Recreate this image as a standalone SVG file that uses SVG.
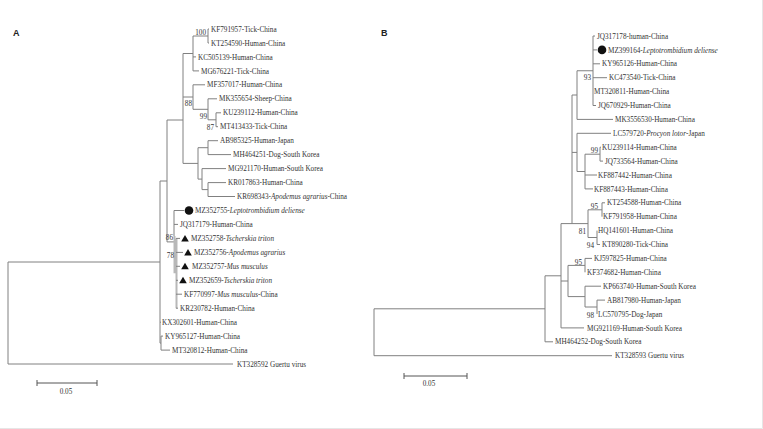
<svg xmlns="http://www.w3.org/2000/svg" width="763" height="429" viewBox="0 0 763 429">
<style>
text{font-family:"Liberation Serif","Times New Roman",serif;font-size:7.2px;fill:#333}
.i{font-style:italic}
.bs{text-anchor:end}
.pl{font-family:"Liberation Sans",Arial,sans-serif;font-size:9px;font-weight:bold;fill:#222}
.br{stroke:#808080;stroke-width:1;fill:none}
.gr{stroke:#b8b8b8;stroke-width:2;fill:none}
.sb{stroke:#555;stroke-width:1;fill:none}
</style>
<defs>
<path id="tri" d="M0 -3.5 L3.8 3 L-3.8 3 Z" fill="#111"/>
</defs>
<rect width="763" height="429" fill="#fff"/>
<path d="M0 428.5 H762.5 V0" stroke="#e6e6e6" fill="none"/>
<g id="connectors">
<path class="br" d="M8 262 V364 M8 262 H160 M8 364 H233 M160 181 V343.1 M160 181 H167 M160 322.2 H161 M160 343.1 H161 M161 336.1 V350.1 M161 336.1 H163 M161 350.1 H170 M167 120 V241.9 M167 120 H183 M167 241.9 H174 M183 53.5 V163.4 M183 53.5 H193 M183 97 H193 M183 163.4 H198 M193 36 V70.9 M193 36 H208 M193 56.9 H196 M193 70.9 H199 M208 29 V43 M208 29 H209 M208 43 H209 M193 84.8 V109.3 M193 84.8 H205 M193 109.3 H208 M208 98.8 V119.8 M208 98.8 H217 M208 119.8 H216 M216 112.8 V126.7 M216 112.8 H221 M216 126.7 H218 M198 147.7 V179.1 M198 147.7 H208 M198 179.1 H202 M208 140.7 V154.6 M208 140.7 H218 M208 154.6 H231 M202 168.6 V189.6 M202 168.6 H226 M202 189.6 H208 M208 182.6 V196.5 M208 182.6 H226 M208 196.5 H235 M174 210.5 V236 M174 210.5 H184 M174 224.4 H178"/>
<path class="gr" d="M174.5 236 V273.3 M176.5 238.4 V308.2"/>
<path class="br" d="M176 238.4 H180 M176 252.4 H183 M176 266.3 H180 M176 280.3 H178 M176 294.2 H182 M176 308.2 H178"/>
<path class="br" d="M374 308.8 V355.7 M374 308.8 H545 M374 355.7 H612 M545 275.8 V341.8 M545 275.8 H561 M545 341.8 H553 M561 223.6 V327.9 M561 223.6 H572 M561 281 H568 M561 327.9 H584 M572 95 V223.6 M572 95 H577 M572 152.4 H577 M572 223.6 H588 M577 70.75 V119.4 M577 70.75 H593 M577 119.4 H613 M593 36 V105.5 M593 36 H595 M593 49.9 H597 M593 63.8 H600 M593 77.7 H607 M593 105.5 H596 M577 133.3 V171.5 M577 133.3 H611 M577 171.5 H585 M585 154.2 V188.9 M585 154.2 H600 M585 175 H597 M585 188.9 H593 M600 147.2 V161.1 M600 147.2 H601 M600 161.1 H603 M588 209.8 V237.5 M588 209.8 H602 M588 237.5 H597 M602 202.8 V216.7 M602 202.8 H605 M597 230.6 V244.5 M597 244.5 H600 M568 265.4 V296.6 M568 265.4 H585 M568 296.6 H585 M585 258.4 V272.3 M585 258.4 H592 M585 286.2 V307 M585 286.2 H601 M585 307 H597 M597 300.1 V314 M597 300.1 H605"/>
</g>
<g id="panel-labels">
<text class="pl" x="13" y="36">A</text>
<text class="pl" x="381" y="36">B</text>
</g>
<g id="bootstrap-A">
<text class="bs" x="206" y="35">100</text>
<text class="bs" x="192" y="106">88</text>
<text class="bs" x="207" y="119">99</text>
<text class="bs" x="214" y="130">87</text>
<text class="bs" x="173" y="240">86</text>
<text class="bs" x="174" y="258">78</text>
</g>
<g id="bootstrap-B">
<text class="bs" x="591" y="80">93</text>
<text class="bs" x="598" y="153">99</text>
<text class="bs" x="598" y="209">95</text>
<text class="bs" x="586" y="234">81</text>
<text class="bs" x="594" y="248">94</text>
<text class="bs" x="582" y="265">95</text>
<text class="bs" x="594" y="318">98</text>
</g>
<g id="A-leaves">
<g id="a-KF791957"><text x="211" y="31.6">KF791957-Tick-China</text></g>
<g id="a-KT254590"><text x="211" y="45.6">KT254590-Human-China</text></g>
<g id="a-KC505139"><text x="198" y="59.5">KC505139-Human-China</text></g>
<g id="a-MG676221"><text x="201" y="73.5">MG676221-Tick-China</text></g>
<g id="a-MF357017"><text x="207" y="87.4">MF357017-Human-China</text></g>
<g id="a-MK355654"><text x="219" y="101.4">MK355654-Sheep-China</text></g>
<g id="a-KU239112"><text x="223" y="115.4">KU239112-Human-China</text></g>
<g id="a-MT413433"><text x="220" y="129.3">MT413433-Tick-China</text></g>
<g id="a-AB985325"><text x="220" y="143.3">AB985325-Human-Japan</text></g>
<g id="a-MH464251"><text x="233" y="157.2">MH464251-Dog-South Korea</text></g>
<g id="a-MG921170"><text x="228" y="171.2">MG921170-Human-South Korea</text></g>
<g id="a-KR017863"><text x="228" y="185.2">KR017863-Human-China</text></g>
<g id="a-KR698343"><text x="237" y="199.1">KR698343-<tspan class="i">Apodemus agrarius</tspan>-China</text></g>
<g id="a-MZ352755"><circle cx="189" cy="210.5" r="4.3" fill="#111"/><text x="195" y="213.1">MZ352755-<tspan class="i">Leptotrombidium deliense</tspan></text></g>
<g id="a-JQ317179"><text x="180" y="227">JQ317179-Human-China</text></g>
<g id="a-MZ352758"><use href="#tri" x="185" y="238.4"/><text x="191" y="241">MZ352758-<tspan class="i">Tscherskia triton</tspan></text></g>
<g id="a-MZ352756"><use href="#tri" x="188" y="252.4"/><text x="194" y="255">MZ352756-<tspan class="i">Apodemus agrarius</tspan></text></g>
<g id="a-MZ352757"><use href="#tri" x="185" y="266.3"/><text x="192" y="268.9">MZ352757-<tspan class="i">Mus musculus</tspan></text></g>
<g id="a-MZ352659"><use href="#tri" x="183" y="280.3"/><text x="189" y="282.9">MZ352659-<tspan class="i">Tscherskia triton</tspan></text></g>
<g id="a-KF770997"><text x="184" y="296.8">KF770997-<tspan class="i">Mus musculus</tspan>-China</text></g>
<g id="a-KR230782"><text x="180" y="310.8">KR230782-Human-China</text></g>
<g id="a-KX302601"><text x="162" y="324.8">KX302601-Human-China</text></g>
<g id="a-KY965127"><text x="165" y="338.7">KY965127-Human-China</text></g>
<g id="a-MT320812"><text x="172" y="352.7">MT320812-Human-China</text></g>
<g id="a-KT328592"><text x="237" y="366.6">KT328592 Guertu virus</text></g>
</g>
<g id="B-leaves">
<g id="b-JQ317178"><text x="597" y="38.6">JQ317178-human-China</text></g>
<g id="b-MZ399164"><circle cx="602" cy="49.9" r="4.3" fill="#111"/><text x="608" y="52.5">MZ399164-<tspan class="i">Leptotrombidium deliense</tspan></text></g>
<g id="b-KY965126"><text x="602" y="66.4">KY965126-Human-China</text></g>
<g id="b-KC473540"><text x="609" y="80.3">KC473540-Tick-China</text></g>
<g id="b-MT320811"><text x="594" y="94.2">MT320811-Human-China</text></g>
<g id="b-JQ670929"><text x="598" y="108.1">JQ670929-Human-China</text></g>
<g id="b-MK3556530"><text x="615" y="122">MK3556530-Human-China</text></g>
<g id="b-LC579720"><text x="613" y="135.9">LC579720-<tspan class="i">Procyon lotor</tspan>-Japan</text></g>
<g id="b-KU239114"><text x="602" y="149.8">KU239114-Human-China</text></g>
<g id="b-JQ733564"><text x="605" y="163.7">JQ733564-Human-China</text></g>
<g id="b-KF887442"><text x="598" y="177.6">KF887442-Human-China</text></g>
<g id="b-KF887443"><text x="594" y="191.5">KF887443-Human-China</text></g>
<g id="b-KT254588"><text x="607" y="205.4">KT254588-Human-China</text></g>
<g id="b-KF791958"><text x="603" y="219.3">KF791958-Human-China</text></g>
<g id="b-HQ141601"><text x="598" y="233.2">HQ141601-Human-China</text></g>
<g id="b-KT890280"><text x="602" y="247.1">KT890280-Tick-China</text></g>
<g id="b-KJ597825"><text x="594" y="261">KJ597825-Human-China</text></g>
<g id="b-KF374682"><text x="587" y="274.9">KF374682-Human-China</text></g>
<g id="b-KP663740"><text x="603" y="288.8">KP663740-Human-South Korea</text></g>
<g id="b-AB817980"><text x="607" y="302.7">AB817980-Human-Japan</text></g>
<g id="b-LC570795"><text x="598" y="316.6">LC570795-Dog-Japan</text></g>
<g id="b-MG921169"><text x="587" y="330.5">MG921169-Human-South Korea</text></g>
<g id="b-MH464252"><text x="555" y="344.4">MH464252-Dog-South Korea</text></g>
<g id="b-KT328593"><text x="615" y="358.3">KT328593 Guertu virus</text></g>
</g>
<g id="scale-A">
<path class="sb" d="M37 383 H97 M37 380 V386 M97 380 V386"/>
<text x="66" y="394" text-anchor="middle">0.05</text>
</g>
<g id="scale-B">
<path class="sb" d="M404 376 H467 M404 373 V379 M467 373 V379"/>
<text x="429" y="386" text-anchor="middle">0.05</text>
</g>
</svg>
